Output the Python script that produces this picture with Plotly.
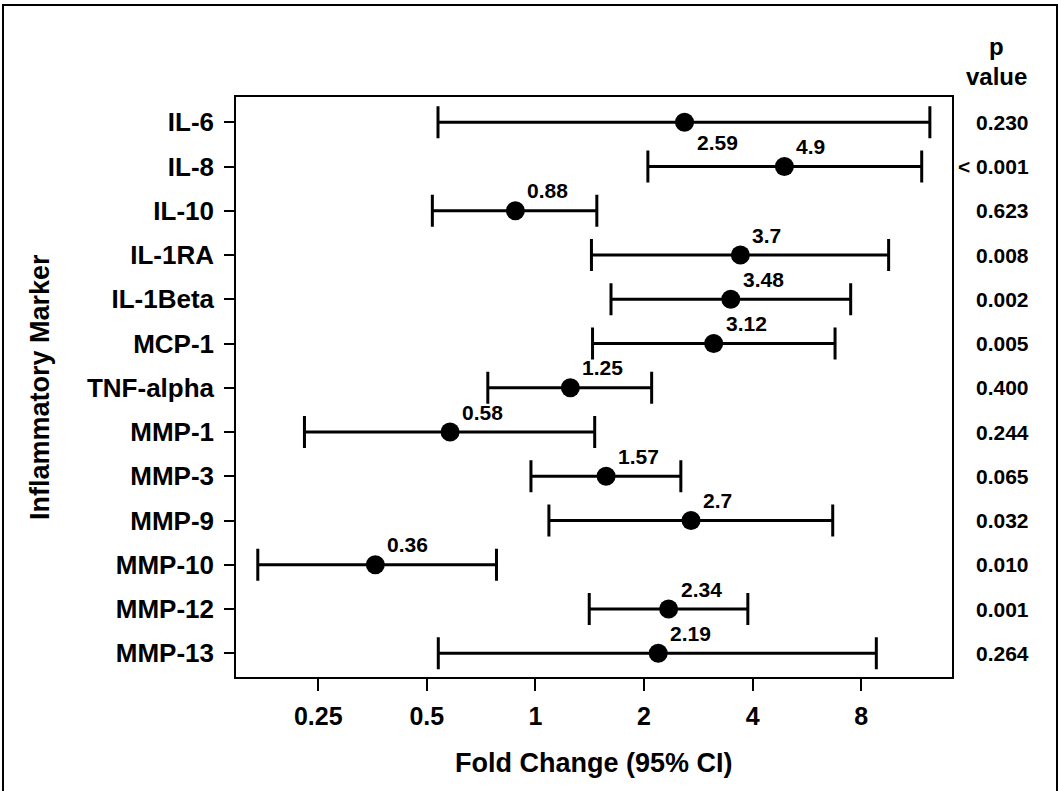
import numpy as np
import plotly.graph_objects as go

markers = ["IL-6", "IL-8", "IL-10", "IL-1RA", "IL-1Beta", "MCP-1", "TNF-alpha",
           "MMP-1", "MMP-3", "MMP-9", "MMP-10", "MMP-12", "MMP-13"]
fold_change = [2.59, 4.9, 0.88, 3.7, 3.48, 3.12, 1.25, 0.58, 1.57, 2.7, 0.36, 2.34, 2.19]
ci_lower = [0.537, 2.05, 0.518, 1.43, 1.62, 1.44, 0.738, 0.229, 0.972, 1.09, 0.17, 1.41, 0.538]
ci_upper = [12.4, 11.77, 1.48, 9.53, 7.48, 6.77, 2.10, 1.46, 2.53, 6.67, 0.78, 3.88, 8.81]
p_values = ["0.230", "< 0.001", "0.623", "0.008", "0.002", "0.005", "0.400",
            "0.244", "0.065", "0.032", "0.010", "0.001", "0.264"]
fc_labels = ["2.59", "4.9", "0.88", "3.7", "3.48", "3.12", "1.25",
             "0.58", "1.57", "2.7", "0.36", "2.34", "2.19"]
x_ticks = [0.25, 0.5, 1, 2, 4, 8]
x_ticktext = ["0.25", "0.5", "1", "2", "4", "8"]

FONT = "Liberation Sans, Arial, sans-serif"
W, H = 1061, 791
L, R, T, B = 236, 952, 97, 677

ypos = list(range(len(markers)))
err_plus = [u - f for u, f in zip(ci_upper, fold_change)]
err_minus = [f - l for f, l in zip(fold_change, ci_lower)]

fig = go.Figure()
fig.add_trace(go.Scatter(
    x=fold_change, y=ypos, mode="markers",
    marker=dict(size=19, color="black"),
    error_x=dict(type="data", symmetric=False, array=err_plus, arrayminus=err_minus,
                 color="black", thickness=3, width=16),
    showlegend=False, hoverinfo="skip"))

def px_to_paper_x(px):
    return (px - L) / (R - L)

def px_to_paper_y(py):
    return (B - py) / (B - T)

annotations = []
for i, (f, lab) in enumerate(zip(fold_change, fc_labels)):
    yshift = -20 if i == 0 else 20
    annotations.append(dict(x=np.log10(f), y=i, xref="x", yref="y", text=f"<b>{lab}</b>",
                            showarrow=False, xanchor="left", yanchor="middle",
                            xshift=10, yshift=yshift,
                            font=dict(family=FONT, size=21, color="black")))
for i, p in enumerate(p_values):
    annotations.append(dict(x=px_to_paper_x(1031), y=i, xref="paper", yref="y",
                            text=f"<b>{p}</b>", showarrow=False, xanchor="right",
                            yanchor="middle",
                            font=dict(family=FONT, size=21, color="black")))
annotations.append(dict(x=px_to_paper_x(997), y=px_to_paper_y(47), xref="paper", yref="paper",
                        text="<b>p</b>", showarrow=False, xanchor="center", yanchor="middle",
                        font=dict(family=FONT, size=24, color="black")))
annotations.append(dict(x=px_to_paper_x(997), y=px_to_paper_y(77), xref="paper", yref="paper",
                        text="<b>value</b>", showarrow=False, xanchor="center", yanchor="middle",
                        font=dict(family=FONT, size=24, color="black")))
annotations.append(dict(x=0.5, y=px_to_paper_y(763), xref="paper", yref="paper",
                        text="<b>Fold Change (95% CI)</b>", showarrow=False,
                        xanchor="center", yanchor="middle",
                        font=dict(family=FONT, size=27, color="black")))
annotations.append(dict(x=px_to_paper_x(40), y=0.5, xref="paper", yref="paper",
                        text="<b>Inflammatory Marker</b>", showarrow=False, textangle=-90,
                        xanchor="center", yanchor="middle",
                        font=dict(family=FONT, size=27, color="black")))

shapes = [
    dict(type="line", xref="x", yref="paper", x0=0, x1=0, y0=0, y1=1,
         line=dict(color="#808080", width=1), layer="below"),
    dict(type="rect", xref="paper", yref="paper",
         x0=px_to_paper_x(3), x1=px_to_paper_x(1057),
         y0=px_to_paper_y(805), y1=px_to_paper_y(5),
         line=dict(color="black", width=2), fillcolor="rgba(0,0,0,0)"),
]

fig.update_layout(
    width=W, height=H,
    margin=dict(l=L, r=W - R, t=T, b=H - B, pad=0),
    paper_bgcolor="white", plot_bgcolor="white",
    font=dict(family=FONT, color="black"),
    annotations=annotations, shapes=shapes,
    xaxis=dict(type="log", range=[np.log10(2 ** -2.757), np.log10(2 ** 3.836)],
               tickvals=x_ticks, ticktext=[f"<b>{t}</b>" for t in x_ticktext],
               ticks="outside", ticklen=12, tickwidth=1.5, tickcolor="black",
               tickfont=dict(family=FONT, size=25, color="black"),
               ticklabelstandoff=4, automargin=False,
               showline=True, linecolor="black", linewidth=1.5, mirror=True,
               showgrid=False, zeroline=False),
    yaxis=dict(range=[12.536, -0.572], tickvals=ypos,
               ticktext=[f"<b>{m}</b>" for m in markers],
               ticks="outside", ticklen=10, tickwidth=1.5, tickcolor="black",
               tickfont=dict(family=FONT, size=26, color="black"),
               ticklabelstandoff=5, automargin=False,
               showline=True, linecolor="black", linewidth=1.5, mirror=True,
               showgrid=False, zeroline=False),
)

fig.write_html("out.html", config={"displayModeBar": False},
               post_script="document.body.style.margin='0';document.body.style.overflow='hidden';")
